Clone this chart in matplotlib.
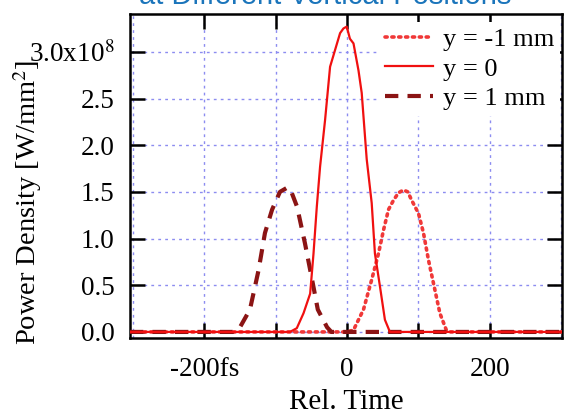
import matplotlib
matplotlib.use("Agg")
import matplotlib.pyplot as plt
from matplotlib.ticker import FixedLocator, FixedFormatter

# ---- data (time in fs, power density in 1e8 W/mm^2) ----
t_y0 = [-304, -80, -70.4, -61, -51.7, -47, -42.4, -37.8, -30.8, -23.8, -16.8, -9.8, -5.1,
        -0.5, 4, 9, 16, 20.5, 27.5, 34.5, 39, 46, 53, 60, 301]
p_y0 = [0, 0, 0.04, 0.2, 0.41, 0.84, 1.34, 1.77, 2.27, 2.84, 3.02, 3.20, 3.25,
        3.27, 3.14, 3.09, 2.8, 2.56, 1.85, 1.38, 0.84, 0.49, 0.13, 0, 0]

t_yp1 = [-304, -160, -150, -136, -124, -115, -105, -94, -85, -80, -70, -59, -49, -41, -28, -22, 301]
p_yp1 = [0, 0, 0.05, 0.24, 0.66, 1.06, 1.31, 1.50, 1.54, 1.54, 1.34, 0.95, 0.56, 0.24, 0.05, 0, 0]

t_ym1 = [-304, 0, 9, 23, 34.5, 44, 51, 58, 65, 72, 79, 85, 90.5, 100, 107, 114, 123, 130, 139, 145, 301]
p_ym1 = [0, 0, 0.02, 0.24, 0.56, 0.84, 1.09, 1.31, 1.41, 1.49, 1.52, 1.50, 1.41, 1.27, 1.06, 0.77, 0.45, 0.2, 0.02, 0, 0]

labels = ["y = -1 mm", "y = 0", "y = 1 mm"]
xticks_major = [-200, 0, 200]
xtick_labels = ["-200fs", "0", "200"]
xticks_minor = [-100, 100]
yticks = [0.0, 0.5, 1.0, 1.5, 2.0, 2.5, 3.0]
ytick_labels = ["0.0", "0.5", "1.0", "1.5", "2.0", "2.5", "3.0x10$^8$"]

plt.rcParams["font.family"] = ["Liberation Serif", "DejaVu Serif"]
plt.rcParams["mathtext.fontset"] = "stix"

fig = plt.figure(figsize=(5.64, 4.16), dpi=100)
ax = fig.add_axes([130/564, 1-338/416, 432/564, 324/416])

ax.plot(t_ym1, p_ym1, color="#f03838", lw=2.6, linestyle=(0, (0.6, 1.3)),
        dash_capstyle="round", label=labels[0], zorder=3)
ax.plot(t_y0, p_y0, color="#f01010", lw=1.6, label=labels[1], zorder=4)
ax.plot(t_yp1, p_yp1, color="#8b1414", lw=3.0, linestyle=(0, (3.2, 2.2)),
        label=labels[2], zorder=3)

ax.set_xlim(-304, 301)
ax.set_ylim(-0.065, 3.405)

ax.xaxis.set_major_locator(FixedLocator(xticks_major))
ax.xaxis.set_major_formatter(FixedFormatter(xtick_labels))
ax.xaxis.set_minor_locator(FixedLocator(xticks_minor))
ax.yaxis.set_major_locator(FixedLocator(yticks))
ax.yaxis.set_major_formatter(FixedFormatter(ytick_labels))

ax.tick_params(axis="both", which="both", direction="in", top=True, right=True,
               length=11, width=1.8, labelsize=19.5)
ax.tick_params(axis="x", which="major", pad=14)
ax.tick_params(axis="y", which="major", pad=11)
for s in ax.spines.values():
    s.set_linewidth(1.8)

# grid lines at every 100 fs and 0.5
for gx in [-300, -200, -100, 0, 100, 200, 300]:
    ax.axvline(gx, color="#8c8cf0", lw=1.0, linestyle=(0, (2, 3)), zorder=1)
for gy in yticks:
    ax.axhline(gy, color="#8c8cf0", lw=1.0, linestyle=(0, (2, 3)), zorder=1)

ax.set_xlabel("Rel. Time", fontsize=21, labelpad=5)
ax.set_ylabel("Power Density [W/mm$^2$]", fontsize=20.5)
ax.yaxis.set_label_coords(-0.238, 0.42)
ax.yaxis.label.set_va("center")

leg = ax.legend(loc="upper right", bbox_to_anchor=(0.995, 0.975), frameon=True,
                fontsize=19, handlelength=1.8, handletextpad=0.4,
                labelspacing=0.24, borderpad=0.2, borderaxespad=0.0)
leg.get_frame().set_edgecolor("none")
leg.get_frame().set_facecolor("white")
leg.get_frame().set_alpha(1.0)
leg.set_zorder(5)

fig.text(325/564, 1-3.5/416, "at Different Vertical Positions", ha="center", va="baseline",
         color="#1b75bb", fontsize=21, family=["Liberation Sans", "DejaVu Sans"])

fig.savefig("out.png", dpi=100)
